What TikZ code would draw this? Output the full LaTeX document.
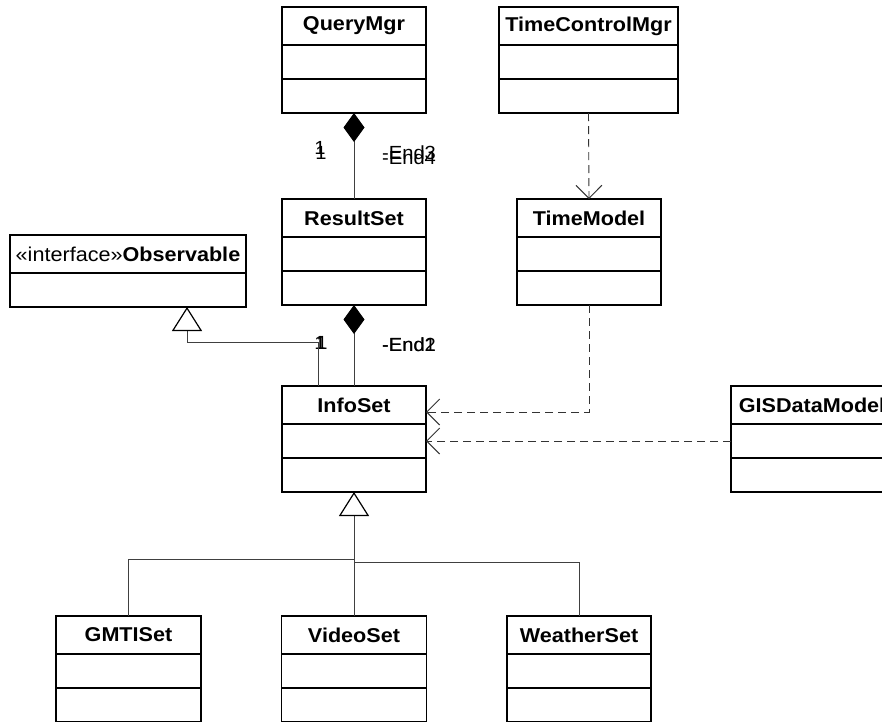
\documentclass[tikz,border=0pt]{standalone}
\usepackage{fontspec}
\setmainfont{Liberation Sans}[FakeStretch=1.08]
\newfontfamily\labelfont{Liberation Sans}[FakeStretch=1.06]
\usetikzlibrary{arrows.meta,positioning}

\begin{document}
\begin{tikzpicture}[
  x=1pt, y=-1pt,
  classhead/.style={draw, line width=1.4pt, inner sep=0pt, outer sep=0pt,
    minimum height=38pt, font=\bfseries\fontsize{20}{23}\selectfont},
  classcomp/.style={draw, line width=1.4pt, inner sep=0pt, outer sep=0pt,
    minimum height=34pt},
  conn/.style={line width=0.9pt, black!75},
  composite/.style={conn, {Diamond[length=29pt,width=21pt,color=black,fill=black]}-},
  generalize/.style={conn, -{Triangle[open,length=24pt,width=30pt,line width=1.2pt,color=black,fill=white]}},
  depend/.style={conn, black!80, dash pattern=on 8pt off 5pt,
    -{Straight Barb[length=13pt,width=26pt,line width=1pt]}},
  endlabel/.style={font=\labelfont\fontsize{19}{22}\selectfont, inner sep=0pt}]

\useasboundingbox (0,0) rectangle (882,721);

% ---- a class box: title row and two empty compartments -------------------
\newcommand{\umlclass}[4]{%
  \node[classhead, minimum width=#3, anchor=north] (#1) at (#2) {#4};
  \node[classcomp, minimum width=#3, below=0pt of #1] (#1-a) {};
  \node[classcomp, minimum width=#3, below=0pt of #1-a] (#1-b) {};}

% ======================= the classes ====================================
\umlclass{QueryMgr}{354,7}{144pt}{QueryMgr}
\umlclass{TimeControlMgr}{588.5,7}{179pt}{TimeControlMgr}
\umlclass{ResultSet}{354,199}{144pt}{ResultSet}
\umlclass{TimeModel}{589,199}{144pt}{TimeModel}
\umlclass{InfoSet}{354,386}{144pt}{InfoSet}
\umlclass{GISDataModel}{812,386}{162pt}{GISDataModel}
\umlclass{GMTISet}{128.5,616}{145pt}{GMTISet}
\umlclass{VideoSet}{354,616}{145pt}{VideoSet}
\umlclass{WeatherSet}{579,616}{144pt}{WeatherSet}

% the interface has a single compartment
\node[classhead, minimum width=236pt, anchor=north] (Observable) at (128,235)
  {\mdseries«interface»\bfseries Observable};
\node[classcomp, minimum width=236pt, below=0pt of Observable] (Observable-a) {};

% ======================= compositions ===================================
\draw[composite] (QueryMgr-b.south) -- (ResultSet.north);
\draw[composite] (ResultSet-b.south) -- (InfoSet.north);
\node[endlabel] (mult-qa) at (320,148) {1};
\node[endlabel] (mult-qb) at (321,153) {1};
\node[endlabel, anchor=west] (end-three) at (382,153) {-End3};
\node[endlabel, anchor=west] (end-four) at (382,158) {-End4};
\node[endlabel] (mult-ra) at (320,343) {1};
\node[endlabel] (mult-rb) at (322,343) {1};
\node[endlabel, anchor=west] (end-one) at (382,345) {-End1};
\node[endlabel, anchor=west] (end-two) at (382,345) {-End2};

% ======================= generalizations ================================
\coordinate (obs-in) at ([xshift=59pt]Observable-a.south);
\draw[generalize] ([xshift=-36pt]InfoSet.north) -- ++(0,-44) -| (obs-in);
\draw[generalize] (VideoSet.north) -- (InfoSet-b.south);
\coordinate (fork-l) at ([yshift=57pt]VideoSet.north);
\coordinate (fork-r) at ([yshift=54pt]VideoSet.north);
\draw[conn] (GMTISet.north) |- (fork-l);
\draw[conn] (WeatherSet.north) |- (fork-r);

% ======================= dependencies ===================================
\draw[depend] (TimeControlMgr-b.south) -- (TimeModel.north);
\draw[depend] (TimeModel-b.south) |- ([yshift=12pt]InfoSet.south east);
\draw[depend] (GISDataModel-a.west) -- (InfoSet-a.east);

\end{tikzpicture}
\end{document}
